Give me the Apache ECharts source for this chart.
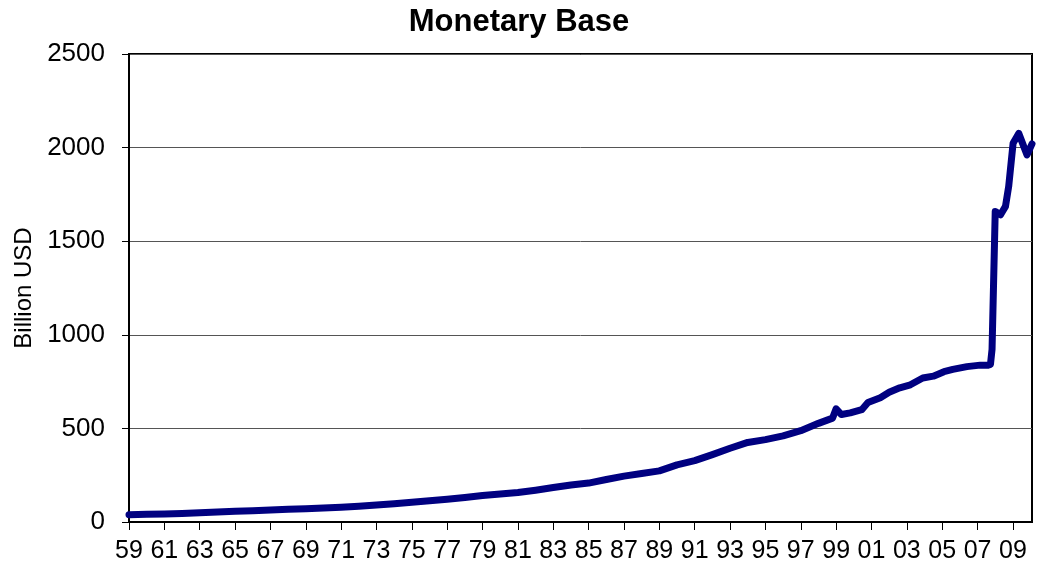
<!DOCTYPE html>
<html>
<head>
<meta charset="utf-8">
<title>Monetary Base</title>
<script src="https://cdn.jsdelivr.net/npm/echarts@6/dist/echarts.min.js"></script>
<style>
  html, body { margin: 0; padding: 0; background: #fff; }
  #chart { width: 1038px; height: 577px; }
</style>
</head>
<body>
<div id="chart"></div>
<script>
  // x: decimal year, y: billion USD
  const years = [
    1959.0, 1960.0, 1961.0, 1962.0, 1963.0, 1964.0, 1965.0, 1966.0, 1967.0, 1968.0,
    1969.0, 1970.0, 1971.0, 1972.0, 1973.0, 1974.0, 1975.0, 1976.0, 1977.0, 1978.0,
    1979.0, 1980.0, 1981.0, 1982.0, 1983.0, 1984.0, 1985.0, 1986.0, 1987.0, 1988.0,
    1989.0, 1990.0, 1991.0, 1992.0, 1993.0, 1994.0, 1995.0, 1996.0, 1997.0, 1998.0,
    1998.8, 1999.0, 1999.3, 1999.8, 2000.45, 2000.8, 2001.5, 2002.0, 2002.6, 2003.2,
    2003.9, 2004.5, 2005.1, 2005.6, 2006.4, 2007.15, 2007.6, 2007.73, 2007.82, 2008.0,
    2008.3, 2008.58, 2008.76, 2009.01, 2009.33, 2009.8, 2010.08
  ];
  const base = [
    39, 41, 43, 46, 49, 53, 57, 60, 64, 68,
    71, 75, 79, 84, 91, 98, 105, 113, 121, 131,
    141, 149, 158, 170, 184, 198, 208, 227, 245, 259,
    273, 305, 328, 360, 394, 425, 440, 460, 488, 527,
    555, 605, 574, 583, 600, 638, 664, 693, 717, 733,
    769, 779, 803, 815, 830, 838, 838, 842, 922, 1659,
    1641, 1686, 1792, 2023, 2076, 1961, 2020
  ];
  const tickYears = [];
  for (let y = 1959; y <= 2009; y += 2) tickYears.push(y);

  let dom = document.getElementById('chart');
  let myChart = echarts.init(dom);
  const font = 'Liberation Sans, Arial, sans-serif';

  let option = {
    animation: false,
    backgroundColor: '#fff',
    title: {
      text: 'Monetary Base',
      left: 'center',
      top: 2,
      textStyle: { fontFamily: font, fontSize: 31, fontWeight: 'bold', color: '#000' }
    },
    grid: {
      left: 129, right: 6, top: 54, bottom: 55,
      show: true, borderColor: '#000', borderWidth: 2, backgroundColor: '#fff'
    },
    xAxis: {
      type: 'value',
      min: 1959,
      max: 2010.08,
      axisLine: { lineStyle: { color: '#000', width: 2 } },
      axisTick: { length: 8, lineStyle: { color: '#000', width: 1 }, customValues: tickYears },
      axisLabel: {
        customValues: tickYears,
        margin: 17,
        fontFamily: font, fontSize: 25, color: '#000',
        formatter: v => String(Math.round(v) % 100).padStart(2, '0')
      },
      splitLine: { show: false }
    },
    yAxis: {
      type: 'value',
      min: 0,
      max: 2500,
      interval: 500,
      name: 'Billion USD',
      nameLocation: 'middle',
      nameRotate: 90,
      nameGap: 76,
      nameTextStyle: { fontFamily: font, fontSize: 24, color: '#000' },
      axisLine: { show: true, lineStyle: { color: '#000', width: 2 } },
      axisTick: { show: true, length: 7, lineStyle: { color: '#000', width: 1 } },
      axisLabel: {
        margin: 24, fontFamily: font, fontSize: 26, color: '#000',
        formatter: v => String(v)
      },
      splitLine: { lineStyle: { color: '#555', width: 1 } }
    },
    series: [
      {
        name: 'Monetary Base',
        type: 'line',
        symbol: 'none',
        smooth: false,
        lineStyle: { color: '#000080', width: 7, cap: 'round', join: 'round' },
        data: years.map((y, i) => [y, base[i]])
      }
    ]
  };
  myChart.setOption(option);
  window.addEventListener('resize', () => { myChart.resize() });
</script>
</body>
</html>
